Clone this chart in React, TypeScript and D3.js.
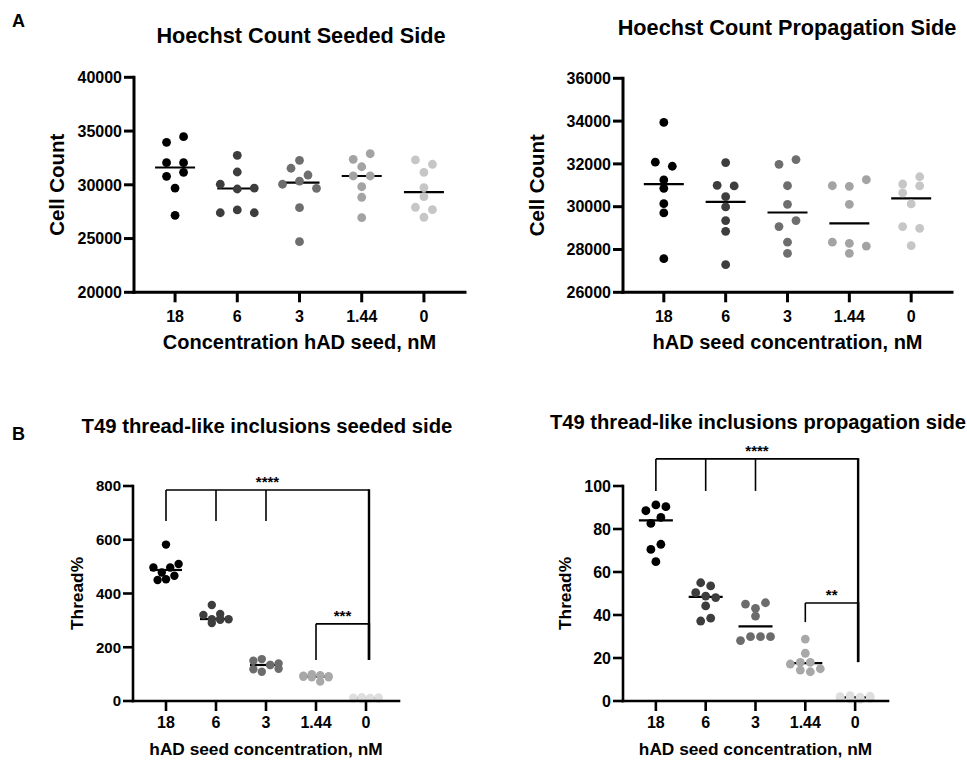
import React from "react";
import * as d3 from "d3";

const FONT = '"Liberation Sans", Arial, Helvetica, sans-serif';

const categories = ["18", "6", "3", "1.44", "0"];

// Hoechst count, seeded side (one array per concentration)
const seededCount = [
  [33950, 34480, 32060, 32060, 30790, 31160, 29700, 27160],
  [32740, 31190, 30050, 29610, 29700, 27400, 27660, 27400],
  [32280, 31540, 30910, 30050, 30350, 29670, 27870, 24710],
  [32370, 32890, 31680, 30820, 30820, 29820, 28840, 26940],
  [32310, 31910, 31160, 29740, 28900, 27910, 27690, 26980],
];

// Hoechst count, propagation side
const propagationCount = [
  [33940, 32080, 31890, 31250, 30860, 30140, 29710, 27570],
  [32060, 31000, 30970, 30470, 29990, 29350, 28850, 27290],
  [31980, 32200, 30980, 30110, 29070, 29350, 28340, 27820],
  [30980, 30950, 31260, 30110, 28340, 28290, 28160, 27820],
  [31060, 31400, 30650, 30970, 30130, 29070, 28990, 28180],
];

// T49 thread%, seeded side
const threadSeeded = [
  [582, 497, 478, 497, 510, 450, 453, 466],
  [357, 320, 304, 324, 306, 290, 304, 302],
  [150, 156, 134, 140, 118, 109, 134, 120],
  [94, 100, 90, 96, 88, 72, 92, 88],
  [9, 12, 7, 14, 10, 11, 8, 13],
];

// T49 thread%, propagation side
const threadPropagation = [
  [88.5, 91.2, 90.4, 82.6, 85.4, 70.5, 72.9, 64.8],
  [55.0, 53.5, 50.4, 48.8, 48.1, 44.2, 37.2, 38.5],
  [45.1, 43.1, 45.7, 39.5, 28.1, 29.9, 29.9, 29.9],
  [28.8, 22.2, 17.2, 18.0, 18.0, 14.4, 15.0, 13.6],
  [1.5, 2.0, 1.0, 2.5, 1.8, 0.8, 1.2, 2.2],
];

const seededTicks = [20000, 25000, 30000, 35000, 40000];
const propagationTicks = [26000, 28000, 30000, 32000, 34000, 36000];
const threadSeededTicks = [0, 200, 400, 600, 800];
const threadPropagationTicks = [0, 20, 40, 60, 80, 100];

const countColors = ["#000000", "#3d3d3d", "#6e6e6e", "#a3a3a3", "#c6c6c6"];
const threadColors = ["#000000", "#3d3d3d", "#6c6c6c", "#a8a8a8", "#dedede"];

// significance brackets, in data units
const seededSig = [
  { legs: ["18", "6", "3"], end: "0", top: 785, legBottom: 670, endBottom: 153, stars: "****" },
  { legs: ["1.44"], end: "0", top: 287, legBottom: 153, endBottom: 153, stars: "***" },
];
const propagationSig = [
  { legs: ["18", "6", "3"], end: "0", top: 112.6, legBottom: 97.7, endBottom: 18.1, stars: "****" },
  { legs: ["1.44"], end: "0", top: 45.6, legBottom: 36.7, endBottom: 18.1, stars: "**" },
];

// GraphPad-like scatter: points close in y are laid out side by side
function spread(values, y, binH, maxRow, spacing) {
  const order = values.map((_, i) => i).sort((a, b) => values[b] - values[a]);
  const off = new Array(values.length).fill(0);
  let k = 0;
  while (k < order.length) {
    const start = y(values[order[k]]);
    const bin = [order[k++]];
    while (k < order.length && bin.length < maxRow && y(values[order[k]]) - start < binH) {
      bin.push(order[k++]);
    }
    bin.sort((a, b) => a - b);
    bin.forEach((id, j) => (off[id] = (j - (bin.length - 1) / 2) * spacing));
  }
  return off;
}

function Panel(p) {
  const x = d3.scalePoint().domain(categories).range([p.left, p.right]).padding(0.66);
  const y = d3.scaleLinear().domain(p.yDomain).range([p.bottom, p.top]);
  const y0 = y(p.yDomain[0]);
  const y1 = y(p.yDomain[1]);
  return (
    <g fontFamily={FONT} fontWeight="bold" fill="#000">
      <text x={p.titleX} y={p.titleY} textAnchor="middle" fontSize={p.titleSize}>{p.title}</text>

      {/* medians under dots */}
      {p.groups.map((vals, gi) => {
        const m = d3.median(vals);
        const cx = x(categories[gi]);
        return (
          <line key={"m" + gi} x1={cx - p.halfLine} x2={cx + p.halfLine} y1={y(m)} y2={y(m)}
            stroke="#000" strokeWidth={2.2} />
        );
      })}
      {p.groups.map((vals, gi) => {
        const off = spread(vals, y, p.binH, p.maxRow, p.spacing);
        const cx = x(categories[gi]);
        return (
          <g key={"g" + gi} fill={p.colors[gi]}>
            {vals.map((v, i) => (
              <circle key={i} cx={cx + off[i]} cy={y(v)} r={p.r} />
            ))}
          </g>
        );
      })}

      {/* axes */}
      <line x1={p.left} x2={p.left} y1={y1} y2={y0} stroke="#000" strokeWidth={p.axisW} strokeLinecap="square" />
      <line x1={p.left} x2={p.right} y1={y0} y2={y0} stroke="#000" strokeWidth={p.axisW} strokeLinecap="square" />
      {p.yTicks.map((t) => (
        <g key={"yt" + t}>
          <line x1={p.left - 10} x2={p.left} y1={y(t)} y2={y(t)} stroke="#000" strokeWidth={p.axisW} />
          <text x={p.left - 12} y={y(t)} dy="0.36em" textAnchor="end" fontSize={p.yTickSize}>{t}</text>
        </g>
      ))}
      {categories.map((c) => (
        <g key={"xt" + c}>
          <line x1={x(c)} x2={x(c)} y1={y0} y2={y0 + 10} stroke="#000" strokeWidth={p.axisW} />
          <text x={x(c)} y={y0 + p.xTickDy} textAnchor="middle" fontSize={p.xTickSize}>{c}</text>
        </g>
      ))}
      <text x={(p.left + p.right) / 2} y={p.xTitleY} textAnchor="middle" fontSize={p.xTitleSize}>{p.xTitle}</text>
      <text transform={`translate(${p.yTitleX},${(y0 + y1) / 2}) rotate(-90)`} textAnchor="middle"
        fontSize={p.yTitleSize}>{p.yTitle}</text>

      {/* significance brackets */}
      {(p.sig || []).map((s, si) => {
        const xs = s.legs.map((c) => x(c));
        const xe = x(s.end) + 3;
        const yt = y(s.top);
        return (
          <g key={"s" + si} stroke="#000" fill="none">
            <line x1={xs[0]} x2={xe} y1={yt} y2={yt} strokeWidth={1.6} />
            {xs.map((lx, li) => (
              <line key={li} x1={lx} x2={lx} y1={yt} y2={y(s.legBottom)} strokeWidth={1.6} />
            ))}
            <line x1={xe} x2={xe} y1={yt - 0.8} y2={y(s.endBottom)} strokeWidth={2.4} />
            <text x={(xs[0] + xe) / 2} y={yt - 3} textAnchor="middle" fontSize={15} fill="#000" stroke="none">
              {s.stars}
            </text>
          </g>
        );
      })}
    </g>
  );
}

export default function App() {
  return (
    <svg width={967} height={760} viewBox="0 0 967 760"
      style={{ position: "absolute", left: 0, top: 0, background: "#fff" }}>
      <rect width={967} height={760} fill="#fff" />
      <text x={12} y={27} fontFamily={FONT} fontWeight="bold" fontSize={18}>A</text>
      <text x={12} y={440} fontFamily={FONT} fontWeight="bold" fontSize={18}>B</text>

      <Panel groups={seededCount} colors={countColors} yDomain={[20000, 40000]} yTicks={seededTicks}
        left={134} right={465} top={77.3} bottom={292.3}
        r={4.4} spacing={17} binH={7.5} maxRow={3} halfLine={20} axisW={3}
        title="Hoechst Count Seeded Side" titleX={301} titleY={43} titleSize={21.7}
        xTitle="Concentration hAD seed, nM" xTitleY={349} xTitleSize={20}
        yTitle="Cell Count" yTitleX={64} yTitleSize={20.4}
        yTickSize={16} xTickSize={16} xTickDy={30} />

      <Panel groups={propagationCount} colors={countColors} yDomain={[26000, 36000]} yTicks={propagationTicks}
        left={623} right={952} top={78.3} bottom={292.3}
        r={4.4} spacing={17} binH={7.5} maxRow={3} halfLine={20} axisW={3}
        title="Hoechst Count Propagation Side" titleX={787} titleY={35} titleSize={21.7}
        xTitle="hAD seed concentration, nM" xTitleY={349} xTitleSize={20}
        yTitle="Cell Count" yTitleX={544} yTitleSize={20.4}
        yTickSize={16} xTickSize={16} xTickDy={30} />

      <Panel groups={threadSeeded} colors={threadColors} yDomain={[0, 800]} yTicks={threadSeededTicks}
        left={133} right={399} top={486} bottom={701}
        r={4.2} spacing={8.4} binH={9} maxRow={4} halfLine={16} axisW={2.6}
        title="T49 thread-like inclusions seeded side" titleX={267} titleY={433} titleSize={20.3}
        xTitle="hAD seed concentration, nM" xTitleY={755} xTitleSize={17.3}
        yTitle="Thread%" yTitleX={83} yTitleSize={17.3}
        yTickSize={15} xTickSize={16} xTickDy={27} sig={seededSig} />

      <Panel groups={threadPropagation} colors={threadColors} yDomain={[0, 100]} yTicks={threadPropagationTicks}
        left={623} right={888} top={486} bottom={701}
        r={4.4} spacing={10} binH={8} maxRow={4} halfLine={17} axisW={2.6}
        title="T49 thread-like inclusions propagation side" titleX={758} titleY={429} titleSize={20.2}
        xTitle="hAD seed concentration, nM" xTitleY={755} xTitleSize={17.3}
        yTitle="Thread%" yTitleX={571} yTitleSize={17.3}
        yTickSize={16} xTickSize={16} xTickDy={27} sig={propagationSig} />
    </svg>
  );
}
